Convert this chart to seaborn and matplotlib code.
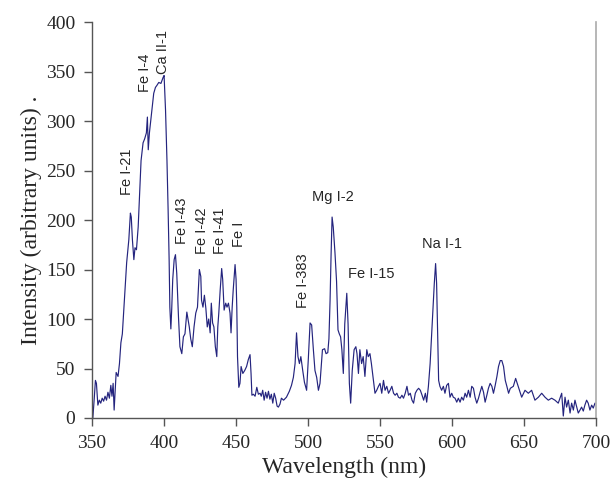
import matplotlib
matplotlib.use("Agg")
import matplotlib.pyplot as plt
import seaborn as sns
import pandas as pd

# ---------- spectrum ----------
wavelength = [
    350.5, 351.5, 352.3, 353, 354, 355, 356, 357, 358, 359, 360, 361, 362, 363, 363.8, 364.6, 365.3,
    366.7, 368, 369, 370, 371, 372, 373, 374, 375.5, 376.6, 377.2, 378, 379, 379.8, 380.8, 382, 383,
    384, 385.4, 386.5, 387.7, 388.4, 389, 389.8, 390.7, 391.7, 392.8, 394, 395, 396.3, 397.8, 399.3,
    400, 401, 402, 402.8, 403.5, 404, 404.7, 405.3, 406, 407, 407.9, 408.8, 410, 411, 412.3, 413.4,
    414.5, 415.8, 416.6, 417.5, 418.5, 419.6, 420.8, 422, 423.2, 424.5, 425.5, 426, 427, 428, 429,
    430, 431, 432, 432.8, 433.7, 434.6, 435.6, 436.6, 437.3, 438, 439, 440, 440.7, 441.7, 442.8,
    443.7, 444.7, 445.8, 446.5, 447.3, 448, 449.3, 450, 450.5, 451, 451.9, 452.7, 453.5, 454.7, 456,
    457.3, 458.5, 459.7, 460.4, 461, 462, 463.2, 464.4, 465.5, 466.7, 467.5, 468.5, 469.5, 470.5,
    471.5, 472.5, 473.5, 474.5, 475.5, 476.5, 477.5, 478.5, 479.4, 480.5, 481.5, 483, 485, 487,
    488.5, 489.8, 491, 492, 493, 494, 495, 496.3, 497.5, 499, 500.2, 501.4, 502.5, 503.7, 504.8, 506,
    507.2, 508.3, 510, 511.5, 512.5, 513.7, 514.5, 515.3, 516, 516.7, 517.5, 518.7, 519.8, 520.8,
    521.7, 522.6, 523.5, 524.5, 525.5, 526.9, 527.8, 528.7, 529.6, 530.7, 532, 533.2, 534, 535, 536,
    537.2, 538.3, 539.5, 540.8, 541.8, 543, 544, 545.4, 546.5, 547.7, 548.9, 550, 551.2, 552.4,
    553.5, 554.7, 555.9, 557, 558.2, 559.4, 560.5, 561.7, 562.8, 564, 565.2, 566.3, 567.5, 568.7,
    569.8, 571, 572.2, 573.3, 574.5, 575.6, 576.8, 578, 579.2, 580.3, 581.5, 582.4, 583.6, 584.8,
    585.9, 587, 587.7, 588.6, 589.3, 590, 590.7, 591.6, 592.8, 594, 595.1, 596.3, 597.5, 598.6,
    599.8, 600.9, 602.1, 603.3, 604.4, 605.6, 606.7, 607.9, 609.1, 610.2, 611.4, 612.6, 613.7,
    614.9, 616, 617.2, 618.4, 619.5, 620.7, 621.9, 623, 624.2, 625.3, 626.5, 627.7, 628.8, 630,
    631.2, 632.3, 633.5, 634.6, 635.8, 637, 638.1, 639.3, 640.5, 642.6, 644.2, 646, 648.4, 650.7,
    653, 655.3, 657.6, 660, 662.3, 664.6, 666.9, 669.2, 671.5, 673.8, 676.2, 677.3, 678.5, 679.6,
    680.8, 682, 683.1, 684.3, 685.4, 686.6, 687.7, 688.9, 690, 691.2, 692.3, 693.5, 694.6, 695.8,
    697, 698.1, 699.3,
]
intensity = [
    0, 20, 38, 35, 13, 18, 15, 20, 17, 22, 18, 26, 20, 33, 22, 35, 8,
    46, 42, 55, 76, 85, 109, 132, 157, 180, 207, 203, 180, 160, 172, 170, 193, 227,
    260, 278, 282, 288, 304, 271, 288, 300, 314, 328, 334, 336, 339, 338, 344,
    346, 311, 260, 210, 160, 112, 90, 110, 140, 160, 165, 146, 102, 72, 65, 82,
    85, 107, 100, 92, 80, 72, 92, 106, 112, 150, 143, 119, 112, 124, 111,
    92, 100, 86, 116, 96, 92, 72, 62, 92, 106, 130, 151, 140, 109, 116,
    112, 116, 106, 86, 112, 129, 155, 140, 112, 62, 31, 35, 52, 45, 48,
    52, 59, 64, 45, 23, 24, 22, 31, 24, 25, 22, 28, 18, 26,
    20, 27, 19, 24, 15, 25, 20, 12, 11, 14, 20, 18, 21, 27,
    33, 41, 55, 86, 62, 55, 62, 48, 36, 28, 60, 96, 94, 69, 48, 41,
    28, 35, 69, 70, 65, 66, 80, 119, 165, 203, 193, 167, 138, 89,
    85, 82, 69, 45, 95, 126, 95, 35, 15, 48, 69, 72, 65, 45, 69,
    55, 62, 42, 69, 62, 65, 55, 38, 25, 28, 32, 35, 25, 38,
    28, 32, 25, 28, 32, 25, 23, 25, 21, 20, 23, 20, 25, 32,
    23, 25, 18, 15, 25, 28, 30, 28, 23, 18, 25, 16, 32, 55,
    86, 116, 136, 156, 136, 86, 38, 32, 28, 32, 25, 33, 35, 21,
    25, 21, 20, 16, 20, 16, 21, 18, 25, 21, 28, 21, 32,
    30, 21, 15, 20, 26, 32, 26, 16, 23, 30, 35, 32, 25, 33,
    42, 52, 58, 58, 52, 38, 32, 25, 30, 32, 40, 32, 21, 28,
    25, 28, 18, 21, 25, 21, 18, 20, 18, 15, 25, 2, 21, 11,
    18, 5, 15, 8, 18, 11, 5, 8, 11, 7, 13, 18, 15, 8,
    13, 10, 15,
]

# ---------- line labels ----------
vert_labels = ["Fe I-21", "Fe I-4", "Ca II-1", "Fe I-43", "Fe I-42", "Fe I-41", "Fe I", "Fe I-383"]
vert_x = [374.3, 387.0, 399.0, 412.7, 426.2, 438.9, 452.0, 496.7]
vert_y = [225, 329, 348, 176, 166, 166, 173, 111]
horiz_labels = ["Mg I-2", "Fe I-15", "Na I-1"]
horiz_x = [517.1, 544.2, 592.8]
horiz_y = [223, 145, 176]

df = pd.DataFrame({"wl": wavelength, "I": intensity})

sns.set_style("ticks")
fig = plt.figure(figsize=(6.1, 4.87), dpi=100)
ax = fig.add_axes([0.151, 0.1417, 0.826, 0.813])

sns.lineplot(data=df, x="wl", y="I", ax=ax, color="#24247e", linewidth=0.85,
             estimator=None, sort=False)

ax.set_xlim(350, 700)
ax.set_ylim(0, 400)
ax.set_xticks(range(350, 701, 50))
ax.set_yticks(range(0, 401, 50))

serif = "Liberation Serif"
sans = "Liberation Sans"
ax.set_xlabel("Wavelength (nm)", family=serif, fontsize=17, labelpad=4)
ax.set_ylabel("Intensity (arbitrary units) .", family=serif, fontsize=17, labelpad=3)
for lab in ax.get_xticklabels() + ax.get_yticklabels():
    lab.set_family(serif)
    lab.set_fontsize(14)
ax.tick_params(axis="both", direction="out", length=6, width=1, color="#555555", pad=6)

sns.despine(ax=ax, top=True, right=False)
for side in ["left", "bottom"]:
    ax.spines[side].set_color("#555555")
    ax.spines[side].set_linewidth(1)
ax.spines["right"].set_color("#aaaaaa")
ax.spines["right"].set_linewidth(1.2)

for t, x, y in zip(vert_labels, vert_x, vert_y):
    ax.text(x, y, t, rotation=90, ha="center", va="bottom", family=sans, fontsize=10.5)
for t, x, y in zip(horiz_labels, horiz_x, horiz_y):
    ax.text(x, y, t, ha="center", va="center", family=sans, fontsize=10.5)

fig.savefig("out.png", dpi=100)
